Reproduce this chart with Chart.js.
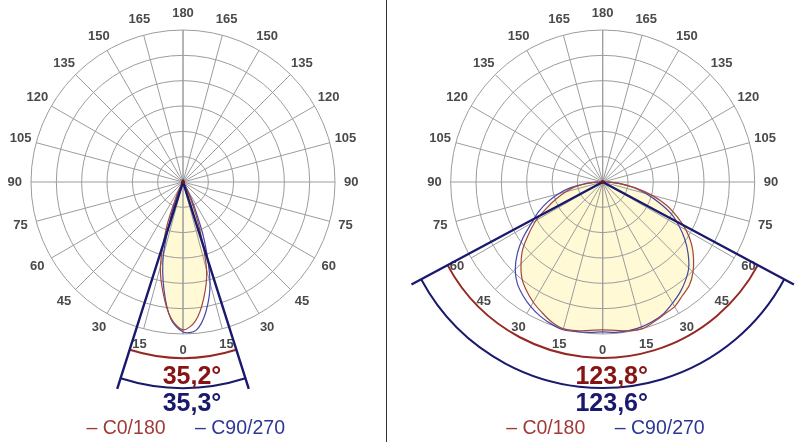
<!DOCTYPE html>
<html>
<head>
<meta charset="utf-8">
<script src="https://cdn.jsdelivr.net/npm/chart.js@4.4.1/dist/chart.umd.min.js"></script>
<style>
html, body { margin: 0; padding: 0; background: #fff; }
#wrap { position: relative; width: 796px; height: 442px; overflow: hidden; }
#left { position: absolute; left: 0; top: 0; }
#right { position: absolute; left: 388px; top: 0; }
#sep { position: absolute; left: 386px; top: 0; width: 1px; height: 442px; background: #333; }
</style>
</head>
<body>
<div id="wrap">
  <canvas id="left" width="386" height="442"></canvas>
  <div id="sep"></div>
  <canvas id="right" width="408" height="442"></canvas>
</div>
<script>
// gamma angles (deg from nadir) the intensities are read at
const gamma = [0, 5, 10, 15, 20, 25, 30, 35, 40, 45, 50, 55, 60, 65, 70, 75, 80, 85, 90];
const angleTicks = [0, 15, 30, 45, 60, 75, 90, 105, 120, 135, 150, 165, 180];
const ringValues = [25, 50, 75, 100, 125, 150];
const seriesNames = ['C0/180', 'C90/270'];

// narrow beam luminaire (left diagram), relative intensity
const narrowC0   = [146, 138, 117, 90, 46, 16, 4, 0, 0, 0, 0, 0, 0, 0, 0, 0, 0, 0, 0];
const narrowC180 = [146, 135, 112, 86, 47, 15, 3, 0, 0, 0, 0, 0, 0, 0, 0, 0, 0, 0, 0];
const narrowC90  = [148, 147, 130, 103, 62, 25, 6, 0, 0, 0, 0, 0, 0, 0, 0, 0, 0, 0, 0];
const narrowC270 = [148, 136, 108, 75, 32, 9, 2, 0, 0, 0, 0, 0, 0, 0, 0, 0, 0, 0, 0];
const narrowBeam = [35.2, 35.3];

// wide beam luminaire (right diagram)
const wideC0   = [146, 147, 149, 150, 147, 144, 142, 137, 133, 126, 117, 107, 95, 81, 67, 50, 32, 16, 3];
const wideC180 = [146, 147, 149, 150, 147, 142, 137, 131, 124, 114, 103, 89, 76, 61, 49, 38, 28, 14, 3];
const wideC90  = [148, 149, 149, 148, 146, 143, 138, 133, 127, 120, 110, 99, 87, 75, 59, 44, 31, 16, 4];
const wideC270 = [148, 149, 150, 151, 149, 146, 142, 137, 131, 122, 110, 96, 81, 70, 58, 45, 32, 17, 4];
const wideBeam = [123.8, 123.6];

const RED = 'rgb(150,40,35)';
const NAVY = 'rgb(25,25,110)';
const R_PX = 152;   // outer ring radius in pixels
const CY = 182;

function polar(r, deg) {
    const a = deg * Math.PI / 180;
    return { x: r * Math.sin(a), y: -r * Math.cos(a) };
}

// left half (C180 / C270) from 90 down to 0, then right half (C0 / C90) back up
function buildCurve(leftVals, rightVals) {
    const pts = [{ x: 0, y: 0 }];
    for (let i = gamma.length - 1; i >= 0; i--) pts.push(polar(leftVals[i], -gamma[i]));
    for (let i = 1; i < gamma.length; i++) pts.push(polar(rightVals[i], gamma[i]));
    pts.push({ x: 0, y: 0 });
    return pts;
}

function fmt(v) {
    return v.toFixed(1).replace('.', ',') + '°';
}

function makePlugin(beams) {
    return {
        id: 'polarDiagram',
        beforeDatasetsDraw(chart) {
            const ctx = chart.ctx;
            const xs = chart.scales.x, ys = chart.scales.y;
            const cx = xs.getPixelForValue(0), cy = ys.getPixelForValue(0);
            const k = xs.getPixelForValue(1) - cx;
            const rMax = ringValues[ringValues.length - 1];
            ctx.save();
            // light fill under the C0/180 curve
            ctx.beginPath();
            chart.data.datasets[0].data.forEach((p, i) => {
                const px = xs.getPixelForValue(p.x), py = ys.getPixelForValue(p.y);
                if (i) ctx.lineTo(px, py); else ctx.moveTo(px, py);
            });
            ctx.closePath();
            ctx.fillStyle = 'rgb(255,250,213)';
            ctx.fill();
            // grid
            ctx.strokeStyle = '#9c9c9c';
            ctx.lineWidth = 1;
            ringValues.forEach(v => {
                ctx.beginPath();
                ctx.arc(cx, cy, v * k, 0, Math.PI * 2);
                ctx.stroke();
            });
            angleTicks.forEach(t => {
                [-1, 1].forEach(s => {
                    const p = polar(rMax, s * t);
                    ctx.beginPath();
                    ctx.moveTo(cx, cy);
                    ctx.lineTo(xs.getPixelForValue(p.x), ys.getPixelForValue(p.y));
                    ctx.stroke();
                });
            });
            // angle labels
            ctx.fillStyle = '#4a4a4a';
            ctx.font = 'bold 13px "Liberation Sans", Arial, sans-serif';
            ctx.textAlign = 'center';
            ctx.textBaseline = 'middle';
            angleTicks.forEach(t => {
                const sides = (t === 0 || t === 180) ? [1] : [-1, 1];
                sides.forEach(s => {
                    const p = polar(rMax + 16, s * t);
                    ctx.fillText(String(t), xs.getPixelForValue(p.x), ys.getPixelForValue(p.y));
                });
            });
            ctx.restore();
        },
        afterDatasetsDraw(chart) {
            const ctx = chart.ctx;
            const xs = chart.scales.x, ys = chart.scales.y;
            const cx = xs.getPixelForValue(0), cy = ys.getPixelForValue(0);
            const hRed = beams[0] / 2 * Math.PI / 180;
            const hBlue = beams[1] / 2 * Math.PI / 180;
            ctx.save();
            // beam arcs
            ctx.lineWidth = 2;
            ctx.strokeStyle = RED;
            ctx.beginPath();
            ctx.arc(cx, cy, 176, Math.PI / 2 - hRed, Math.PI / 2 + hRed);
            ctx.stroke();
            ctx.strokeStyle = NAVY;
            ctx.beginPath();
            ctx.arc(cx, cy, 206, Math.PI / 2 - hBlue, Math.PI / 2 + hBlue);
            ctx.stroke();
            // beam lines
            ctx.lineWidth = 2.4;
            ctx.beginPath();
            ctx.moveTo(cx - 217 * Math.sin(hBlue), cy + 217 * Math.cos(hBlue));
            ctx.lineTo(cx, cy);
            ctx.lineTo(cx + 217 * Math.sin(hBlue), cy + 217 * Math.cos(hBlue));
            ctx.stroke();
            // centre dot
            ctx.fillStyle = 'rgb(120,20,30)';
            ctx.beginPath();
            ctx.arc(cx, cy, 2, 0, Math.PI * 2);
            ctx.fill();
            // beam angle values
            ctx.textAlign = 'center';
            ctx.textBaseline = 'middle';
            ctx.font = 'bold 25px "Liberation Sans", Arial, sans-serif';
            ctx.fillStyle = 'rgb(135,20,20)';
            ctx.fillText(fmt(beams[0]), cx + 9, cy + 195);
            ctx.fillStyle = NAVY;
            ctx.fillText(fmt(beams[1]), cx + 9, cy + 222);
            // legend
            ctx.font = '19.5px "Liberation Sans", Arial, sans-serif';
            ctx.fillStyle = 'rgb(160,60,55)';
            ctx.fillText('– ' + seriesNames[0], cx - 57, cy + 247);
            ctx.fillStyle = 'rgb(45,55,150)';
            ctx.fillText('– ' + seriesNames[1], cx + 57, cy + 247);
            ctx.restore();
        }
    };
}

function makeDiagram(id, cx, c0, c180, c90, c270, beams) {
    const el = document.getElementById(id);
    const W = el.width, H = el.height;
    const k = R_PX / ringValues[ringValues.length - 1];
    const lineOpts = { showLine: true, pointRadius: 0, borderWidth: 1.2, tension: 0.3, fill: false };
    return new Chart(el, {
        type: 'scatter',
        data: {
            datasets: [
                Object.assign({ label: seriesNames[0], data: buildCurve(c180, c0), borderColor: 'rgb(160,70,60)' }, lineOpts),
                Object.assign({ label: seriesNames[1], data: buildCurve(c270, c90), borderColor: 'rgb(70,70,165)' }, lineOpts)
            ]
        },
        options: {
            responsive: false,
            animation: false,
            devicePixelRatio: 1,
            events: [],
            layout: { padding: 0 },
            plugins: { legend: { display: false }, tooltip: { enabled: false } },
            scales: {
                x: { type: 'linear', display: false, min: -cx / k, max: (W - cx) / k },
                y: { type: 'linear', display: false, min: -(H - CY) / k, max: CY / k }
            }
        },
        plugins: [makePlugin(beams)]
    });
}

makeDiagram('left', 183, narrowC0, narrowC180, narrowC90, narrowC270, narrowBeam);
makeDiagram('right', 214.7, wideC0, wideC180, wideC90, wideC270, wideBeam);
</script>
</body>
</html>
